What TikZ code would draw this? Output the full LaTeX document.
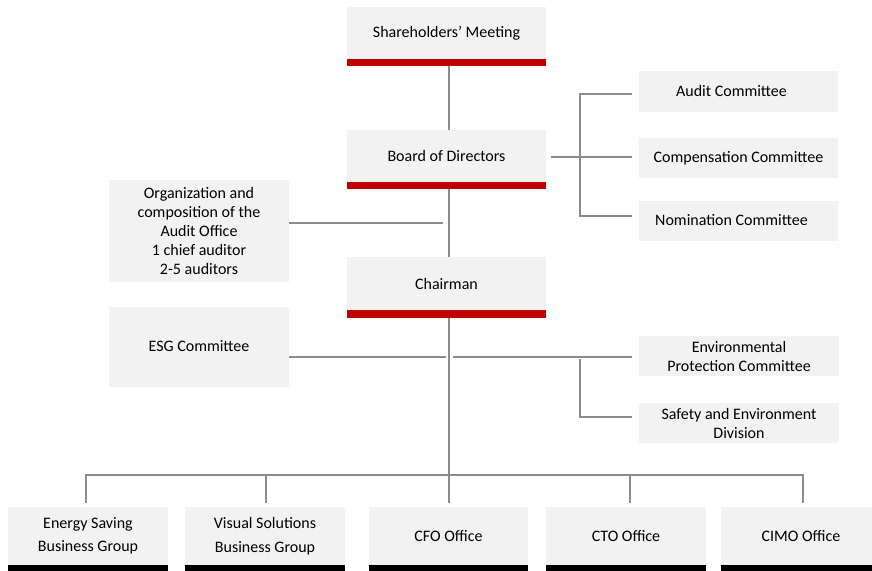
\documentclass[tikz,border=0pt]{standalone}
\usepackage{fontspec}
\setmainfont{Carlito}
\definecolor{boxgray}{HTML}{F2F2F2}
\definecolor{barred}{HTML}{C00000}
\definecolor{linegray}{HTML}{8C8C8C}
\begin{document}
\begin{tikzpicture}[x=1pt,y=-1pt,
  box/.style={fill=boxgray,draw=none,inner sep=0pt,align=center,font=\fontsize{16}{19}\selectfont},
  bot/.style={box,font=\fontsize{16}{23.5}\selectfont},
  conn/.style={draw=linegray,line width=1.5pt}]
\useasboundingbox (0,0) rectangle (872,570);
\clip (0,0) rectangle (872,570);
% main column
\node[box,minimum width=199pt,minimum height=52pt] (sm) at (446.5,33) {Shareholders’ Meeting};
\node[box,minimum width=199pt,minimum height=52pt] (bd) at (446.5,156) {Board of Directors};
\node[box,minimum width=199pt,minimum height=53pt] (ch) at (446.5,283.5) {Chairman};
\fill[barred] (sm.south west) rectangle ++(199,7);
\fill[barred] (bd.south west) rectangle ++(199,7);
\fill[barred] (ch.south west) rectangle ++(199,8);
% committees
\node[box,minimum width=199pt,minimum height=41pt] (ac) at (738.5,91.5) {\hspace*{-14pt}\raisebox{2pt}{Audit Committee}};
\node[box,minimum width=199pt,minimum height=40pt] (cc) at (738.5,158) {Compensation Committee};
\node[box,minimum width=199pt,minimum height=40pt] (nc) at (738.5,221) {\hspace*{-14pt}\raisebox{2pt}{Nomination Committee}};
\node[box,minimum width=180pt,minimum height=102pt] (ao) at (199,231) {Organization and\\composition of the\\Audit Office\\1 chief auditor\\2-5 auditors};
\node[box,minimum width=180pt,minimum height=80pt] (esg) at (199,347) {\raisebox{3pt}{ESG Committee}};
\node[box,minimum width=200pt,minimum height=40pt] (ep) at (739,356) {Environmental\\Protection Committee};
\node[box,minimum width=200pt,minimum height=40pt] (sd) at (739,423) {Safety and Environment\\Division};
% bottom row
\node[bot,minimum width=160pt,minimum height=58pt] (es) at (88,536) {Energy Saving\\Business Group};
\node[bot,minimum width=160pt,minimum height=58pt] (vs) at (265,536) {Visual Solutions\\Business Group};
\node[bot,minimum width=159pt,minimum height=58pt] (cfo) at (448.5,536) {CFO Office};
\node[bot,minimum width=160pt,minimum height=58pt] (cto) at (626,536) {CTO Office};
\node[bot,minimum width=160pt,minimum height=58pt] (cimo) at (801,536) {CIMO Office};
\foreach \n in {es,vs,cfo,cto,cimo}{\fill[black] (\n.south west) rectangle ([yshift=-8pt]\n.south east);}
% connector points
\coordinate (smb) at (449,66);
\coordinate (bdt) at (449,130);
\coordinate (bdb) at (449,189);
\coordinate (cht) at (449,257);
\coordinate (chb) at (449,318);
\coordinate (cfot) at (449,503);
\coordinate (bdr) at (551,157);
\coordinate (brka) at (580,94);
\coordinate (brkn) at (580,216);
\coordinate (acl) at (632,94);
\coordinate (ccl) at (632,157);
\coordinate (ncl) at (632,216);
\coordinate (aor) at (289,223);
\coordinate (aoe) at (443,223);
\coordinate (esgr) at (289,357);
\coordinate (esge) at (446,357);
\coordinate (eps) at (453,357);
\coordinate (epl) at (632,357);
\coordinate (brke) at (580,359);
\coordinate (brks) at (580,417);
\coordinate (sdl) at (632,417);
\coordinate (b1) at (86,475);
\coordinate (b5) at (803,475);
\coordinate (est) at (86,503);
\coordinate (vst) at (266,503);
\coordinate (vsb) at (266,475);
\coordinate (ctot) at (630,503);
\coordinate (ctob) at (630,475);
\coordinate (cimot) at (803,503);
% connectors
\draw[conn] (smb) -- (bdt);
\draw[conn] (bdb) -- (cht);
\draw[conn] (chb) -- (cfot);
\draw[conn] (bdr) -- (ccl);
\draw[conn] (acl) -- (brka) -- (brkn) -- (ncl);
\draw[conn] (aor) -- (aoe);
\draw[conn] (esgr) -- (esge);
\draw[conn] (eps) -- (epl);
\draw[conn] (brke) -- (brks) -- (sdl);
\draw[conn] (est) -- (b1) -- (b5) -- (cimot);
\draw[conn] (vsb) -- (vst);
\draw[conn] (ctob) -- (ctot);
\end{tikzpicture}
\end{document}
